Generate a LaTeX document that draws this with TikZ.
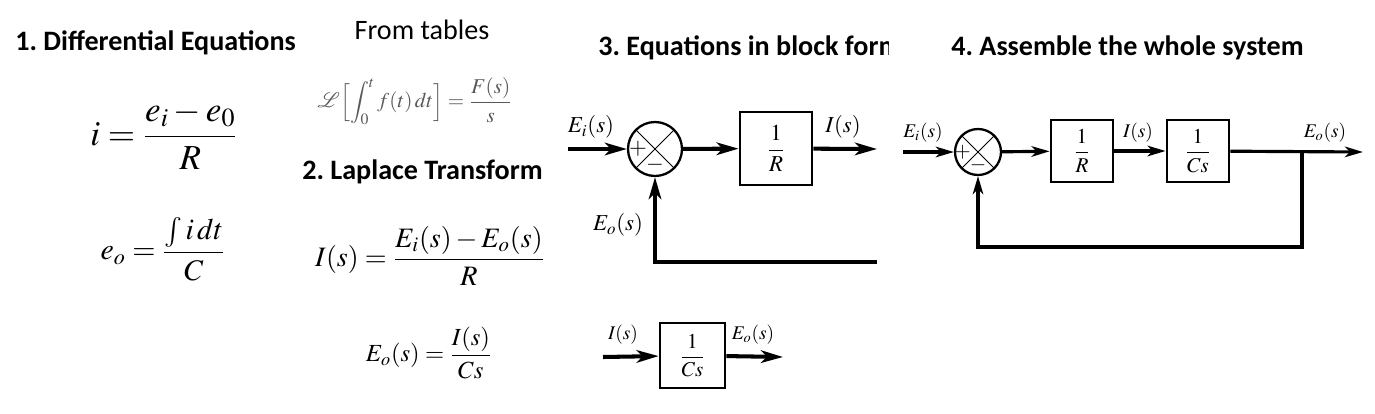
\documentclass[tikz,border=0pt]{standalone}
\usepackage{amsmath}
\usepackage{mathptmx}
\usepackage{mathrsfs}
\usepackage[no-math]{fontspec}
\setmainfont{Carlito}
\usetikzlibrary{arrows.meta,positioning,calc}
\frenchspacing

\begin{document}
\begin{tikzpicture}[x=0.02cm,y=-0.02cm,
    head/.style={font=\fontsize{16}{19}\selectfont\bfseries,anchor=west,inner sep=0},
    eqn/.style={font=\fontsize{16}{19}\selectfont,inner sep=0},
    lbl/.style={font=\fontsize{11}{13}\selectfont,inner sep=0},
    wire/.style={line width=2.3pt,-{Stealth[length=0.44cm,width=0.25cm,inset=0.12cm]}},
    wirethin/.style={line width=1.8pt,-{Stealth[length=0.36cm,width=0.21cm,inset=0.1cm]}},
    blk/.style={draw,line width=1.6pt,inner sep=0,font=\fontsize{12}{14}\selectfont},
    sgn/.style={font=\fontsize{13}{15}\selectfont,inner sep=0},
    sumj/.style={circle,draw,line width=1.3pt,inner sep=0,
      path picture={\draw[line width=0.5pt]
        (path picture bounding box.north west) -- (path picture bounding box.south east)
        (path picture bounding box.north east) -- (path picture bounding box.south west);}}]
    \useasboundingbox (0,0) rectangle (1375,413);
    % Headings
    \node[head] (hdDiff) at (15,43) {1. Differential Equations};
    \node[font=\fontsize{16}{19}\selectfont,inner sep=0] (hdFrom) at (422,30) {From tables};
    \node[head] (hdLap) at (302,172) {2. Laplace Transform};
    \begin{scope}
        \clip (560,0) rectangle (888,80);
        \node[head] (hdBlock) at (598,48) {3. Equations in block form};
    \end{scope}
    \node[head] (hdWhole) at (951,48) {4. Assemble the whole system};
    % Differential equations
    \node[eqn,font=\fontsize{20}{24}\selectfont] (eqDiffI) at (164,135) {$i=\dfrac{e_i-e_0}{R}$};
    \node[eqn,font=\fontsize{17}{20}\selectfont] (eqDiffE) at (163,249) {$e_o=\dfrac{\int i\,dt}{C}$};
    % Table entry
    \node[eqn,font=\fontsize{12}{14}\selectfont,text=black!65] (eqTable) at (415,101)
        {$\mathscr{L}\Bigl[\displaystyle\int_0^t f(t)\,dt\Bigr]=\dfrac{F(s)}{s}$};
    % Laplace transform
    \node[eqn] (eqLapI) at (430,256) {$I(s)=\dfrac{E_i(s)-E_o(s)}{R}$};
    \node[eqn,font=\fontsize{14}{17}\selectfont] (eqLapE) at (429,353) {$E_o(s)=\dfrac{I(s)}{Cs}$};
    % Block form: current
    \coordinate (inA) at (568,149);
    \node[sumj,minimum size=1.08cm] (sumA) at (655,149) {};
    \node[sgn] (plusA) at ([xshift=-0.34cm]sumA.center) {$+$};
    \node[sgn] (minusA) at ([yshift=-0.32cm]sumA.center) {$-$};
    \node[blk,font=\fontsize{13}{15}\selectfont,minimum width=1.44cm,minimum height=1.46cm] (blkR) at (776,148.5) {$\dfrac{1}{R}$};
    \coordinate (outA) at (877,149);
    \coordinate (fbA) at (877,262);
    \draw[wire] (inA) -- (sumA);
    \draw[wire] (sumA) -- (blkR);
    \draw[wire] (blkR) -- (outA);
    \draw[wire] (fbA) -| (sumA.south);
    \node[lbl,font=\fontsize{13}{15}\selectfont] (lbEiA) at (591,127) {$E_i(s)$};
    \node[lbl,font=\fontsize{13}{15}\selectfont] (lbIA) at (843,127) {$I(s)$};
    \node[lbl,font=\fontsize{13}{15}\selectfont] (lbEoA) at (618,225) {$E_o(s)$};
    % Block form: capacitor
    \coordinate (inB) at (603,357);
    \node[blk,minimum width=1.3cm,minimum height=1.3cm] (blkC) at (692.5,355.5) {$\dfrac{1}{Cs}$};
    \coordinate (outB) at (783,357);
    \draw[wire] (inB) -- (blkC);
    \draw[wire] (blkC) -- (outB);
    \node[lbl] (lbIB) at (623,335) {$I(s)$};
    \node[lbl] (lbEoB) at (753,335) {$E_o(s)$};
    % Whole system
    \coordinate (inC) at (903,152);
    \node[sumj,minimum size=0.92cm] (sumB) at (978,152) {};
    \node[sgn,font=\fontsize{12}{14}\selectfont] (plusB) at ([xshift=-0.31cm]sumB.center) {$+$};
    \node[sgn,font=\fontsize{12}{14}\selectfont] (minusB) at ([yshift=-0.26cm]sumB.center) {$-$};
    \node[blk,minimum size=1.24cm] (blkR2) at (1082,151) {$\dfrac{1}{R}$};
    \node[blk,minimum size=1.24cm] (blkC2) at (1198,151) {$\dfrac{1}{Cs}$};
    \coordinate (outC) at (1363,152);
    \coordinate (brC) at (1302,152);
    \coordinate (fbC) at (1302,247);
    \draw[wirethin] (inC) -- (sumB);
    \draw[wirethin] (sumB) -- (blkR2);
    \draw[wirethin] (blkR2) -- (blkC2);
    \draw[wirethin] (blkC2) -- (outC);
    \draw[wirethin] (brC) -- (fbC) -| (sumB.south);
    \node[lbl] (lbEiC) at (923,133) {$E_i(s)$};
    \node[lbl] (lbIC) at (1138,133) {$I(s)$};
    \node[lbl] (lbEoC) at (1325,133) {$E_o(s)$};
\end{tikzpicture}
\end{document}
